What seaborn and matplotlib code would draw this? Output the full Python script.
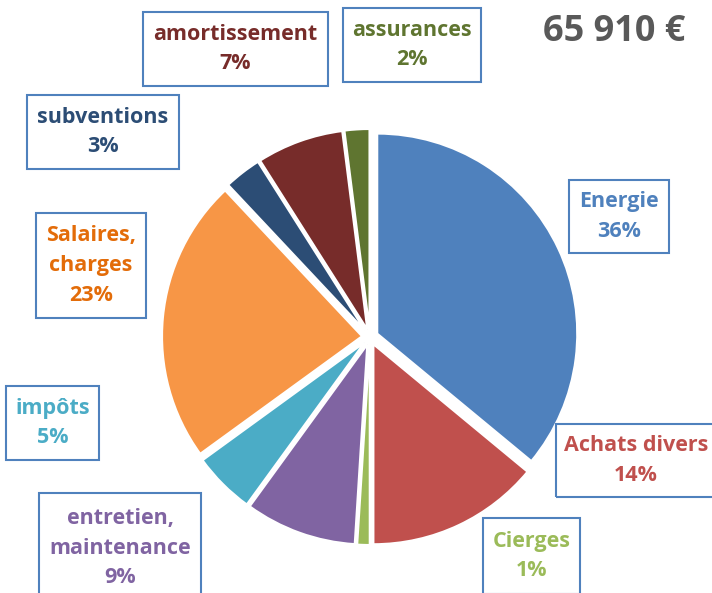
import matplotlib
matplotlib.use("Agg")
import matplotlib.pyplot as plt
import seaborn as sns
from matplotlib.patches import Rectangle

# ----------------------------
# données
# ----------------------------
categories = ["Energie", "Achats divers", "Cierges", "entretien,\nmaintenance",
              "impôts", "Salaires,\ncharges", "subventions", "amortissement", "assurances"]
parts = [36, 14, 1, 9, 5, 23, 3, 7, 2]
total_label = "65 910 €"

wedge_colors = ["#4F81BD", "#C0504D", "#9BBB59", "#8064A2", "#4BACC6",
                "#F79646", "#2C4D75", "#772C2A", "#5F7530"]
text_colors = ["#4F81BD", "#C0504D", "#9BBB59", "#8064A2", "#4BACC6",
               "#E36C09", "#2C4D75", "#772C2A", "#5F7530"]

# boîtes des étiquettes en pixels (gauche, haut, droite, bas)
label_boxes = [(569, 180, 669, 253), (556, 424, 716, 497), (483, 518, 580, 594),
               (39, 493, 201, 603), (6, 386, 99, 460), (36, 213, 146, 318),
               (27, 95, 179, 169), (143, 12, 328, 86), (343, 8, 481, 82)]

W, H = 712, 593

sns.set_theme(style="white")
plt.rcParams['font.family'] = ['Open Sans', 'DejaVu Sans']

fig = plt.figure(figsize=(W / 100, H / 100), dpi=100)
ax = fig.add_axes([120 / W, 6 / H, 500 / W, 500 / H])

ax.pie(parts, colors=wedge_colors, startangle=90, counterclock=False,
       explode=[0.04] * len(parts),
       wedgeprops=dict(edgecolor="white", linewidth=1.5))
ax.set_xlim(-1.25, 1.25)
ax.set_ylim(-1.25, 1.25)
ax.axis("off")

for name, val, col, (x0, y0, x1, y1) in zip(categories, parts, text_colors, label_boxes):
    fig.patches.append(Rectangle((x0 / W, 1 - y1 / H), (x1 - x0) / W, (y1 - y0) / H,
                                 transform=fig.transFigure, fill=False,
                                 edgecolor="#4F81BD", linewidth=1.5))
    fig.text((x0 + x1) / 2 / W, 1 - (y0 + y1) / 2 / H, f"{name}\n{val}%",
             ha="center", va="center", color=col, fontsize=15.5,
             fontweight="bold", linespacing=1.55)

fig.text(614 / W, 1 - 32 / H, total_label, ha="center", va="center",
         color="#595959", fontsize=26, fontweight="bold")

fig.savefig("out.png", dpi=100)
